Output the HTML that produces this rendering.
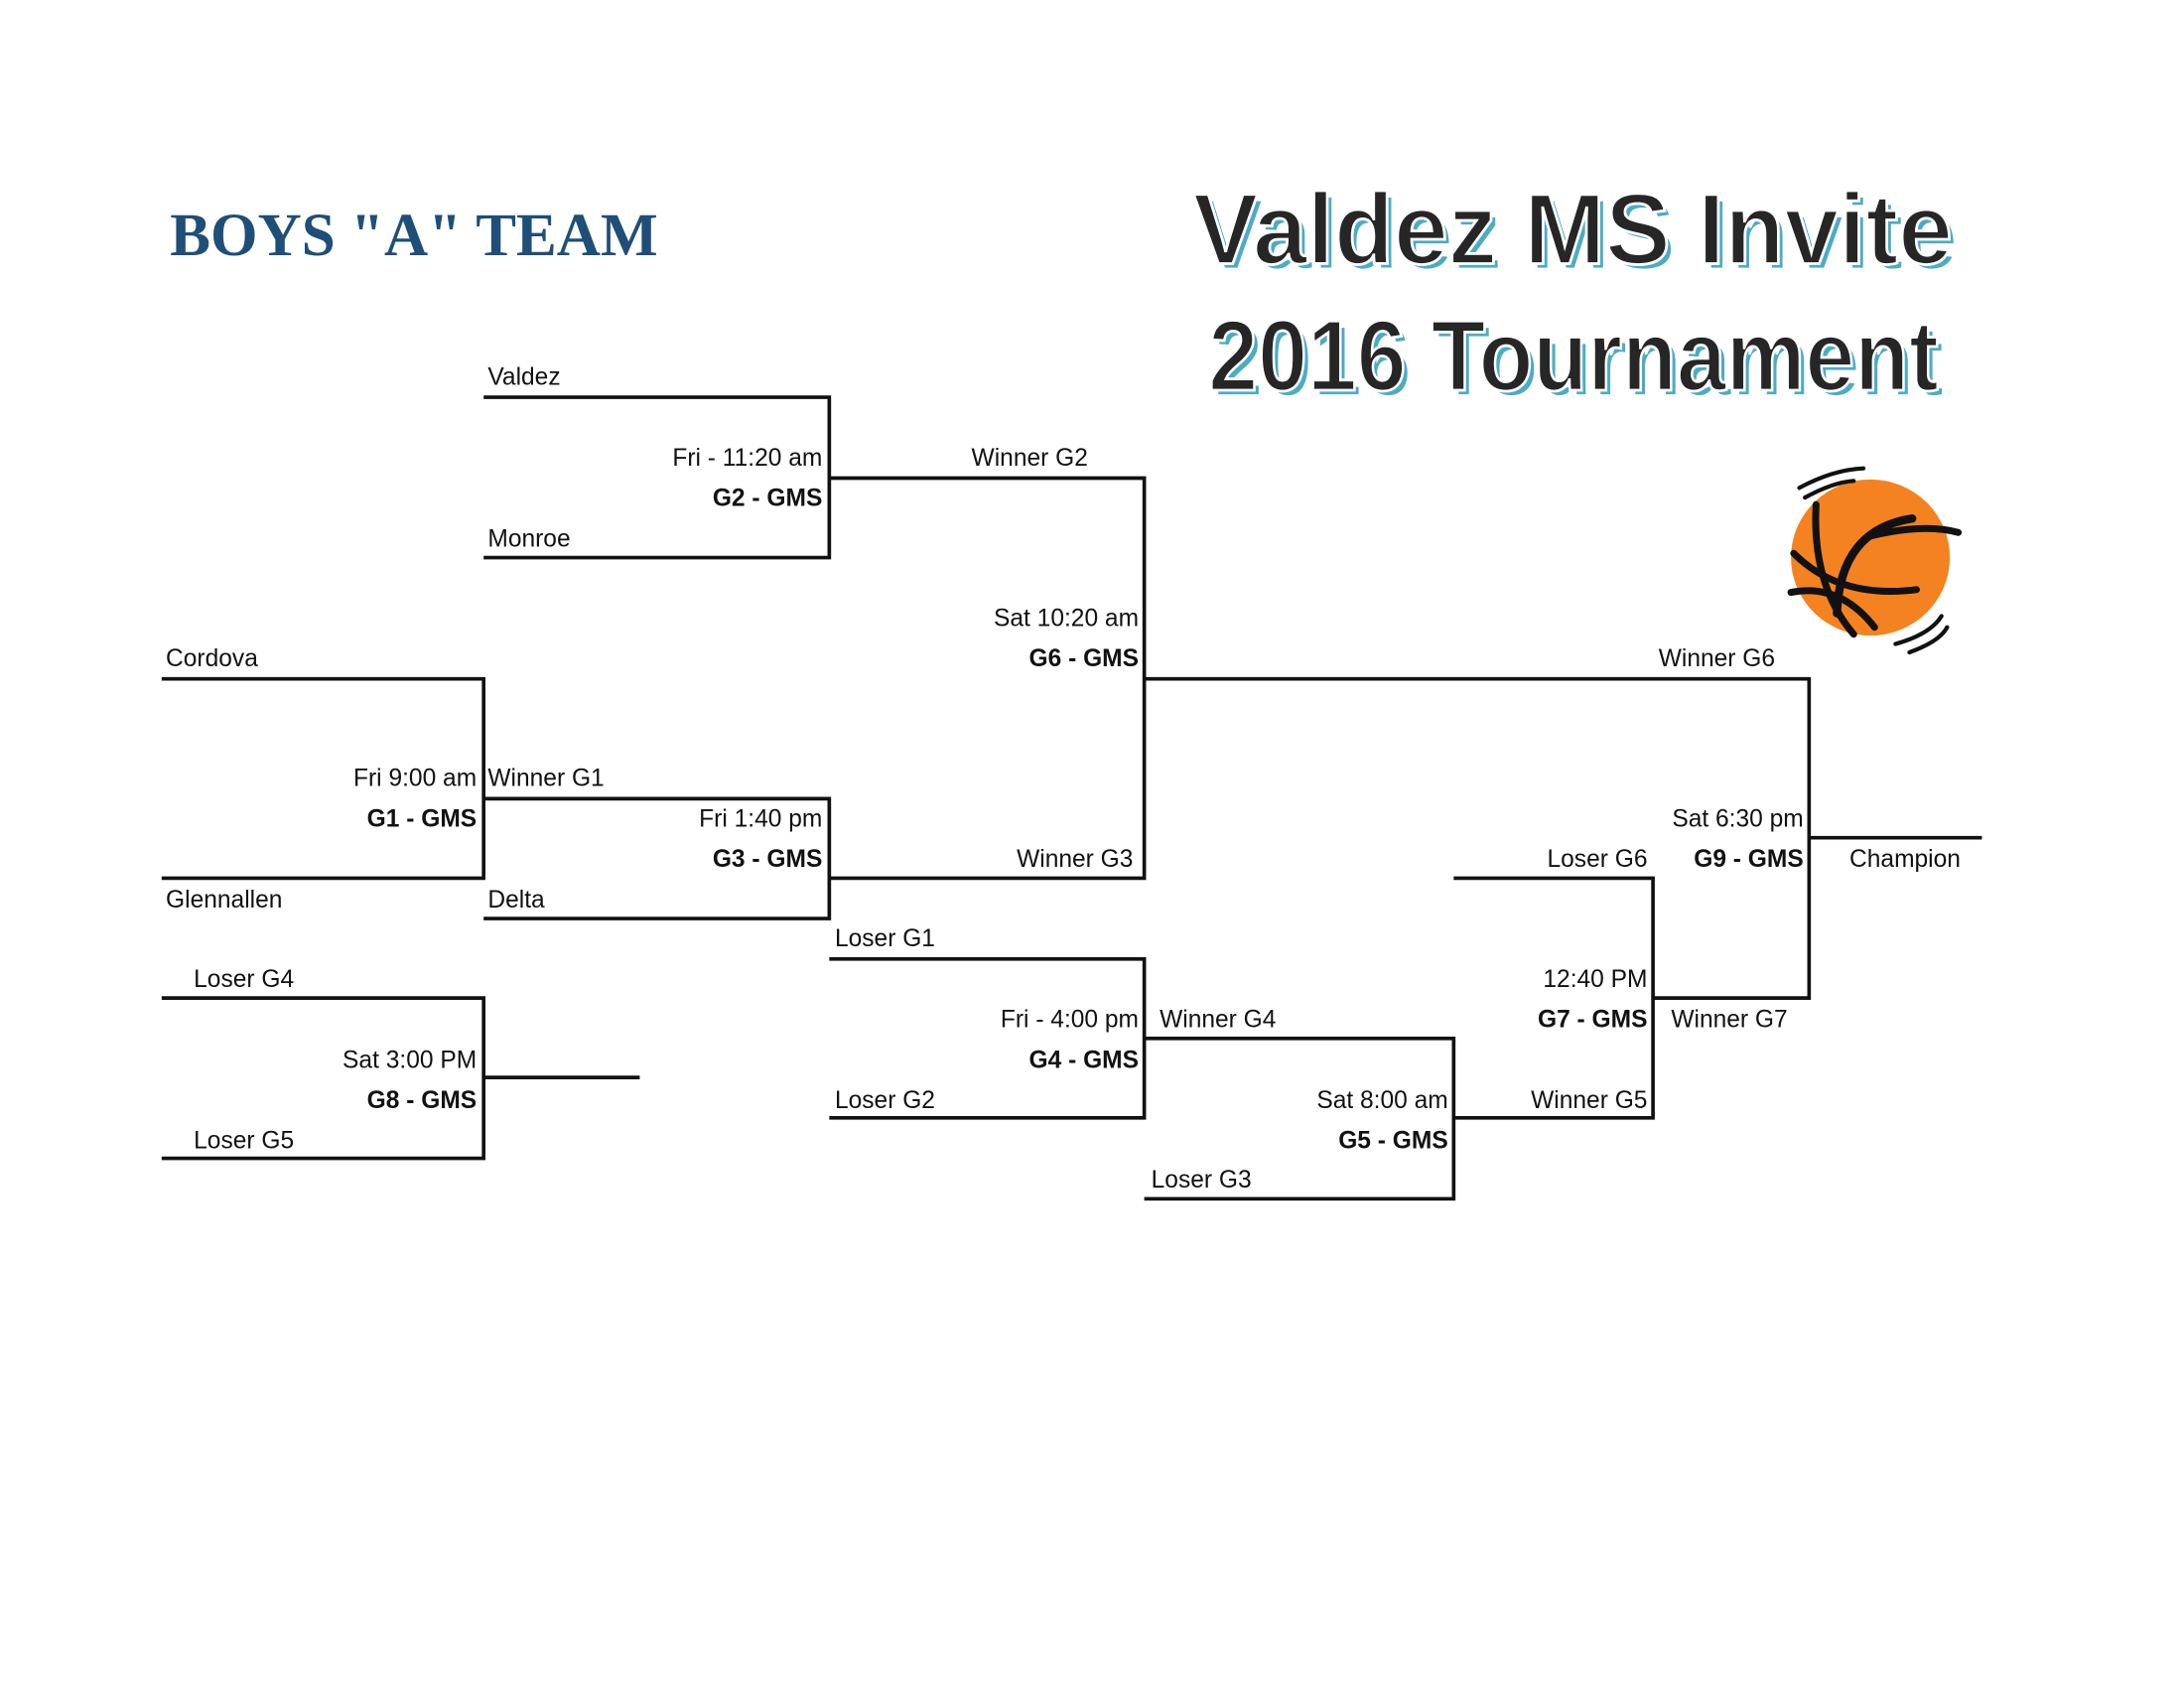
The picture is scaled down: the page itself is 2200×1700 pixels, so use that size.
<!DOCTYPE html>
<html><head><meta charset="utf-8"><style>
html,body{margin:0;padding:0;background:#fff;}
svg{display:block;}
.t{font-family:"Liberation Sans",sans-serif;font-size:17.5px;fill:#111;}
.r{text-anchor:end;}
.b{font-weight:bold;}
</style></head><body>
<svg width="2200" height="1700" viewBox="0 0 1567 1211" preserveAspectRatio="none" xmlns="http://www.w3.org/2000/svg">
<rect width="1567" height="1211" fill="#fff"/>
<!-- titles -->
<text x="122" y="183" font-family="Liberation Serif,serif" font-weight="bold" font-size="44" fill="#1f4e79" textLength="350" lengthAdjust="spacingAndGlyphs">BOYS "A"     TEAM</text>
<g font-family="Liberation Sans,sans-serif" font-weight="bold" font-size="72">
<text x="860" y="193" fill="#4bacc6" stroke="#fff" stroke-width="2" textLength="545" lengthAdjust="spacingAndGlyphs">Valdez MS Invite</text>
<text x="856" y="189" fill="#262626" stroke="#fff" stroke-width="2" textLength="545" lengthAdjust="spacingAndGlyphs">Valdez MS Invite</text>
<text x="871" y="284" fill="#4bacc6" stroke="#fff" stroke-width="2" textLength="524" lengthAdjust="spacingAndGlyphs">2016 Tournament</text>
<text x="867" y="280" fill="#262626" stroke="#fff" stroke-width="2" textLength="524" lengthAdjust="spacingAndGlyphs">2016 Tournament</text>
</g>
<!-- basketball -->
<g>
<ellipse cx="1342" cy="400" rx="57" ry="56" fill="#f58220"/>
<g fill="none" stroke="#111" stroke-linecap="round">
<path d="M1303 362 Q1300 420 1330 455" stroke-width="5"/>
<path d="M1318 440 Q1320 380 1372 372" stroke-width="6"/>
<path d="M1340 385 Q1380 375 1405 382" stroke-width="5"/>
<path d="M1287 397 Q1320 430 1375 423" stroke-width="5"/>
<path d="M1285 425 Q1320 418 1345 450" stroke-width="5"/>
<path d="M1291 350 Q1315 337 1337 336" stroke-width="3"/>
<path d="M1295 357 Q1315 346 1330 345" stroke-width="3"/>
<path d="M1360 462 Q1385 455 1393 442" stroke-width="3"/>
<path d="M1370 468 Q1392 460 1397 450" stroke-width="3"/>
</g>
</g>
<!-- bracket lines -->
<g stroke="#111" stroke-width="2.6" fill="none">
<path d="M347 285H595V400H347"/>
<path d="M595 343H821V630H595"/>
<path d="M821 487H1298V716H1187"/>
<path d="M1298 601H1422"/>
<path d="M116 487H347V630H116"/>
<path d="M347 573H595V659H347"/>
<path d="M595 688H821V802H595"/>
<path d="M821 745H1043V860H821"/>
<path d="M1043 630H1186V802H1043"/>
<path d="M116 716H347V831H116"/>
<path d="M347 773H459"/>
</g>
<!-- labels -->
<g class="t">
<text x="350" y="276">Valdez</text>
<text class="t r" x="590" y="334">Fri - 11:20 am</text>
<text class="t r b" x="590" y="363">G2 - GMS</text>
<text x="350" y="392">Monroe</text>
<text x="697" y="334">Winner G2</text>
<text class="t r" x="817" y="449">Sat 10:20 am</text>
<text class="t r b" x="817" y="478">G6 - GMS</text>
<text x="119" y="478">Cordova</text>
<text x="1190" y="478">Winner G6</text>
<text class="t r" x="342" y="564">Fri 9:00 am</text>
<text x="350" y="564">Winner G1</text>
<text class="t r b" x="342" y="593">G1 - GMS</text>
<text class="t r" x="590" y="593">Fri 1:40 pm</text>
<text class="t r" x="1294" y="593">Sat 6:30 pm</text>
<text class="t r b" x="590" y="622">G3 - GMS</text>
<text class="t r" x="813" y="622">Winner G3</text>
<text class="t r" x="1182" y="622">Loser G6</text>
<text class="t r b" x="1294" y="622">G9 - GMS</text>
<text x="1327" y="622">Champion</text>
<text x="119" y="651">Glennallen</text>
<text x="350" y="651">Delta</text>
<text x="599" y="679">Loser G1</text>
<text x="139" y="708">Loser G4</text>
<text class="t r" x="1182" y="708">12:40 PM</text>
<text class="t r" x="817" y="737">Fri - 4:00 pm</text>
<text x="832" y="737">Winner G4</text>
<text class="t r b" x="1182" y="737">G7 - GMS</text>
<text x="1199" y="737">Winner G7</text>
<text class="t r" x="342" y="766">Sat 3:00 PM</text>
<text class="t r b" x="817" y="766">G4 - GMS</text>
<text class="t r b" x="342" y="795">G8 - GMS</text>
<text x="599" y="795">Loser G2</text>
<text class="t r" x="1039" y="795">Sat 8:00 am</text>
<text class="t r" x="1182" y="795">Winner G5</text>
<text class="t r b" x="1039" y="824">G5 - GMS</text>
<text x="139" y="824">Loser G5</text>
<text x="826" y="852">Loser G3</text>
</g>
</svg>
</body></html>
